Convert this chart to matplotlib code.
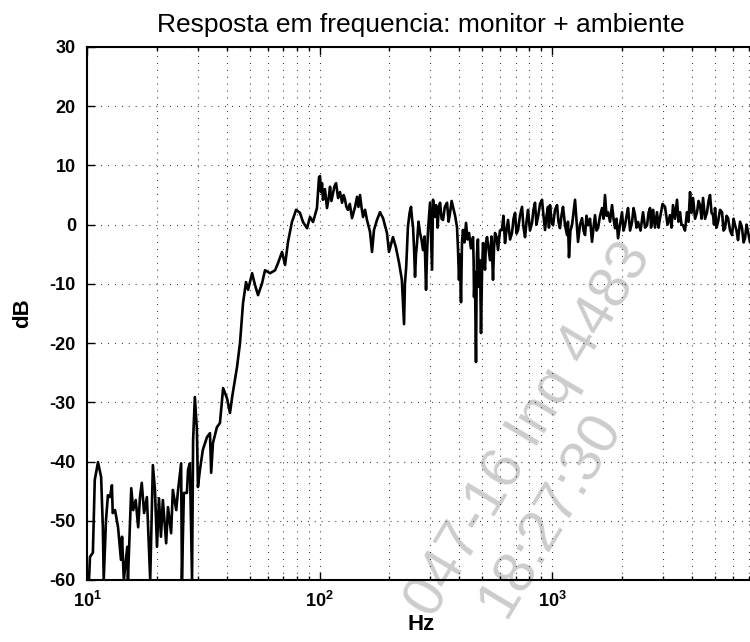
import numpy as np
import matplotlib.pyplot as plt
from matplotlib.ticker import LogLocator, NullFormatter

# Resposta em frequencia medida (monitor + sala)
# frequencias em Hz, amplitude em dB

# faixa baixa (10 - 240 Hz)
freq_lo = [10.1, 10.2, 10.3, 10.6, 10.8, 11.15, 11.5, 11.7, 11.8, 12.07,
           12.3, 12.56, 12.8, 12.9, 13.2, 13.6, 14.0, 14.15, 14.4, 14.9,
           15.0, 15.5, 15.8, 16.2, 16.6, 16.9, 17.2, 17.6, 18.1, 18.7,
           19.2, 19.6, 20.0, 20.4, 20.8, 21.2, 21.9, 22.3, 23.0, 23.4,
           24.2, 24.6, 25.4, 25.6, 26.1, 26.9, 27.2, 27.7, 28.3, 28.6,
           29.1, 29.7, 30.0, 30.6, 31.5, 32.8, 33.8, 34.2, 34.8, 36.2,
           37.3, 38.5, 40.0, 41.2, 42.1, 44.2, 45.5, 46.9, 48.3, 49.3,
           51.3, 52.8, 54.4, 56.6, 58.3, 61.3, 64.4, 66.3, 69.0, 71.1,
           73.2, 76.1, 79.3, 82.4, 84.9, 88.4, 91.0, 93.8, 97.5, 99.5,
           100.5, 101.5, 102.5, 103.5, 105.5, 107.7, 109.5, 111, 112.5, 114.3,
           116, 117.8, 120.2, 122.5, 125, 127, 128.8, 130.5, 132.6, 135,
           138, 142.2, 145, 147, 149.4, 151.5, 153.9, 157, 160, 164.9,
           168.2, 171.5, 176.7, 182, 187.6, 195, 199, 207, 213, 220,
           226, 229, 231, 233, 236]
mag_lo = [-60, -60, -56.1, -55.4, -43.1, -40.1, -42.6, -51.1, -60, -49.9,
          -45.7, -46.0, -44.0, -48.7, -48.2, -51.1, -56.6, -52.7, -60, -54.4,
          -60, -44.5, -48.2, -46.5, -51.1, -46.0, -43.6, -48.7, -46.0, -60,
          -40.6, -44.8, -54.4, -46.2, -52.7, -46.5, -53.8, -47.7, -52.1, -44.8,
          -48.2, -45.1, -40.3, -60, -45.3, -45.3, -41.4, -40.3, -60, -36.4,
          -29.1, -34.7, -44.3, -41.4, -38.0, -35.9, -35.2, -41.9, -36.9, -34.2,
          -33.5, -27.6, -29.3, -31.8, -29.1, -24.0, -20.0, -13.2, -9.7, -11.0,
          -8.2, -10.2, -11.9, -9.9, -7.7, -8.2, -7.7, -6.5, -4.6, -6.8,
          -2.9, 0.45, 2.5, 2.0, 0.45, -0.6, 1.3, 0.45, 2.8, 8.0,
          8.2, 5.5, 7.0, 4.2, 6.0, 2.8, 4.5, 6.4, 4.0, 5.3,
          6.5, 7.0, 4.5, 5.5, 3.7, 5.0, 4.2, 3.0, 2.5, 3.5,
          1.1, 3.0, 4.7, 3.0, 5.0, 3.0, 1.3, 2.5, 0.8, -1.2,
          -4.6, -0.9, 0.8, 2.1, 1.1, -1.4, -4.6, -2.1, -3.8, -6.5,
          -9.3, -13.9, -16.8, -10.0, -7.1]

# faixa alta (240 Hz - 7.5 kHz)
freq_hi = [240, 244, 247.5, 250, 252.5, 255, 257.5, 260, 262.7, 266.5,
           270.6, 274.5, 278.8, 283, 287.2, 290, 292.9, 296, 298.8, 301.8,
           304.8, 306.3, 307.8, 311, 314, 317, 320.3, 322, 323.5, 326.5,
           330, 335, 339.8, 346, 353.6, 359, 364.3, 370, 375.3, 383,
           390.3, 394, 398, 402, 406, 410, 414, 420, 426.7, 433,
           439.5, 448, 457.4, 460, 461.9, 466, 471, 473.5, 475.8, 480,
           485.3, 490, 495, 500, 505, 510, 515, 520, 525.4, 533,
           541.2, 549, 557.5, 563, 568.7, 577, 585.8, 597, 609.4, 618,
           627.8, 637, 647, 660, 673, 683, 693.5, 704, 714.4, 728,
           743, 754, 765.6, 777, 788.6, 804, 820.4, 832, 845, 857,
           870.6, 888, 905.7, 919, 933, 947, 961, 970, 980.4, 995,
           1010, 1030, 1051, 1066, 1082, 1098, 1115, 1137, 1160, 1171,
           1183, 1200, 1219, 1237, 1256, 1275, 1294, 1320, 1346, 1366,
           1387, 1407, 1428, 1457, 1486, 1508, 1531, 1554, 1577, 1609,
           1641, 1665, 1690, 1715, 1741, 1776, 1812, 1839, 1866, 1894,
           1923, 1961, 2000, 2030, 2061, 2092, 2123, 2166, 2209, 2242,
           2275, 2309, 2344, 2403, 2463, 2513, 2563, 2601, 2640, 2666,
           2692, 2719, 2773, 2828, 2871, 2914, 2988, 3062, 3139, 3217,
           3265, 3314, 3381, 3448, 3500, 3552, 3605, 3659, 3732, 3806,
           3864, 3923, 3982, 4042, 4123, 4205, 4268, 4332, 4397, 4462,
           4552, 4642, 4712, 4782, 4854, 4927, 4976, 5025, 5100, 5176,
           5281, 5386, 5467, 5549, 5632, 5716, 5832, 5948, 6037, 6127,
           6218, 6310, 6438, 6566, 6665, 6764, 6865, 6967, 7108, 7249,
           7500]
mag_hi = [-0.4, 2.0, 3.0, 1.0, -0.4, -4.0, -8.8, -5.0, -3.1, 0.5,
          -1.4, -2.5, -4.3, -2.0, -11.0, -5.0, -0.9, 1.5, 3.7, -2.0,
          -7.6, -1.0, 4.2, 2.5, 1.3, 3.3, 2.0, -0.5, 0.8, 3.0,
          3.7, 1.0, 0.8, 3.0, 3.7, 0.5, 2.0, 4.0, 3.0, 1.5,
          -0.4, -4.0, -9.3, -5.0, -13.1, -3.0, -0.9, -3.0, 0.3, -2.5,
          -1.4, -4.0, -2.1, -6.0, -12.2, -8.0, -23.2, -12.0, -4.8, -2.5,
          -10.5, -6.0, -18.3, -8.0, -3.1, -5.5, -7.6, -3.0, -2.1, -4.0,
          -6.0, -2.0, -9.3, -4.0, -1.4, -2.0, -4.3, -1.0, -0.9, 1.5,
          -3.1, -1.0, 0.8, -2.5, -1.4, 1.0, 2.0, -1.5, -0.9, 1.5,
          3.0, -0.5, -2.1, 0.5, 2.5, -1.0, 0.3, 2.5, 3.7, 0.0,
          1.3, 3.5, 4.2, 1.5, -0.9, 1.5, 3.0, -0.5, 3.3, 0.5,
          -0.1, 2.5, 3.3, 0.5, -0.6, 1.5, 3.0, 0.0, -1.75, 0.5,
          -5.5, -1.0, -0.1, 2.0, 4.2, 0.5, -2.9, 0.0, 1.1, -1.0,
          -1.75, 1.5, -0.1, 1.0, -2.9, -0.5, 1.6, -1.0, -0.6, 1.5,
          2.8, 1.0, 5.0, 1.5, 2.1, 0.5, 3.3, 1.0, -0.6, 1.0,
          -2.3, 0.0, 2.1, -1.0, -0.1, 1.5, 2.8, -1.0, 0.45, 2.8,
          1.6, -0.5, 0.45, -1.0, 2.1, -0.5, -0.1, 2.0, 2.8, -0.5,
          0.45, 2.5, -0.5, 2.1, -0.5, 1.1, 3.5, 3.0, 0.0, 1.6,
          -0.5, 3.3, 1.0, 4.2, 0.5, 2.1, 0.0, -0.1, -1.0, 2.1,
          0.5, 5.5, 2.0, 4.5, 1.0, 2.1, 4.0, 3.3, 1.0, 4.5,
          1.0, 2.1, 4.0, 5.0, 2.0, 1.6, 0.0, 2.8, -0.5, 0.45,
          2.5, 2.1, -1.0, -0.6, 1.5, 1.1, -1.0, -1.75, 1.0, -0.1,
          -1.0, -2.6, 0.5, -0.6, -3.0, -2.3, 0.0, -1.2, -3.0, -1.75,
          -1.0]

freq = freq_lo + freq_hi
mag = mag_lo + mag_hi

yticks = [-60, -50, -40, -30, -20, -10, 0, 10, 20, 30]
xticks = [10, 100, 1000]
xticklabels = [r'$\mathbf{10^{1}}$', r'$\mathbf{10^{2}}$', r'$\mathbf{10^{3}}$']

plt.rcParams['font.family'] = ['Liberation Sans', 'DejaVu Sans']
plt.rcParams['axes.unicode_minus'] = False
plt.rcParams['mathtext.fontset'] = 'custom'
plt.rcParams['mathtext.bf'] = 'Liberation Sans:bold'
plt.rcParams['mathtext.rm'] = 'Liberation Sans'

fig = plt.figure(figsize=(7.5, 6.42), dpi=100)
ax = fig.add_axes([0.116, 0.0966, 0.8913, 0.8302])
ax.patch.set_alpha(0)

ax.semilogx(freq, mag, color='k', lw=1.9, zorder=3)
ax.set_xlim(10, 7500)
ax.set_ylim(-60, 30)

ax.set_yticks(yticks)
ax.set_yticklabels([str(v) for v in yticks], fontsize=13, fontweight='bold')
ax.set_xticks(xticks)
ax.set_xticklabels(xticklabels, fontsize=13)
ax.xaxis.set_minor_locator(LogLocator(base=10, subs=np.arange(2, 10)))
ax.xaxis.set_minor_formatter(NullFormatter())

# grade pontilhada estilo matlab
dots = (0, (0.7, 5.5))
ax.grid(True, which='both', axis='x', ls=dots, color='k', lw=0.8)
ax.grid(True, which='major', axis='y', ls=dots, color='k', lw=0.8)

ax.tick_params(which='major', direction='in', length=6, width=1, top=True, right=False, pad=8)
ax.tick_params(which='minor', direction='in', length=3, width=1, top=True, right=False)
for s in ['left', 'bottom', 'top']:
    ax.spines[s].set_linewidth(1.5)
ax.spines['right'].set_visible(False)

ax.set_title('Resposta em frequencia: monitor + ambiente', fontsize=19, pad=11)
ax.set_xlabel('Hz', fontsize=16, fontweight='bold', labelpad=2)
ax.set_ylabel('dB', fontsize=16, fontweight='bold', labelpad=12)

# marca d'agua
fig.text(0.7053, 0.330, '047-16 Inq 4483', rotation=59, fontsize=42,
         color='#cccccc', ha='center', va='center', zorder=-1)
fig.text(0.734, 0.198, '18:27:30', rotation=59, fontsize=42,
         color='#cccccc', ha='center', va='center', zorder=-1)

plt.savefig('out.png', dpi=100)
